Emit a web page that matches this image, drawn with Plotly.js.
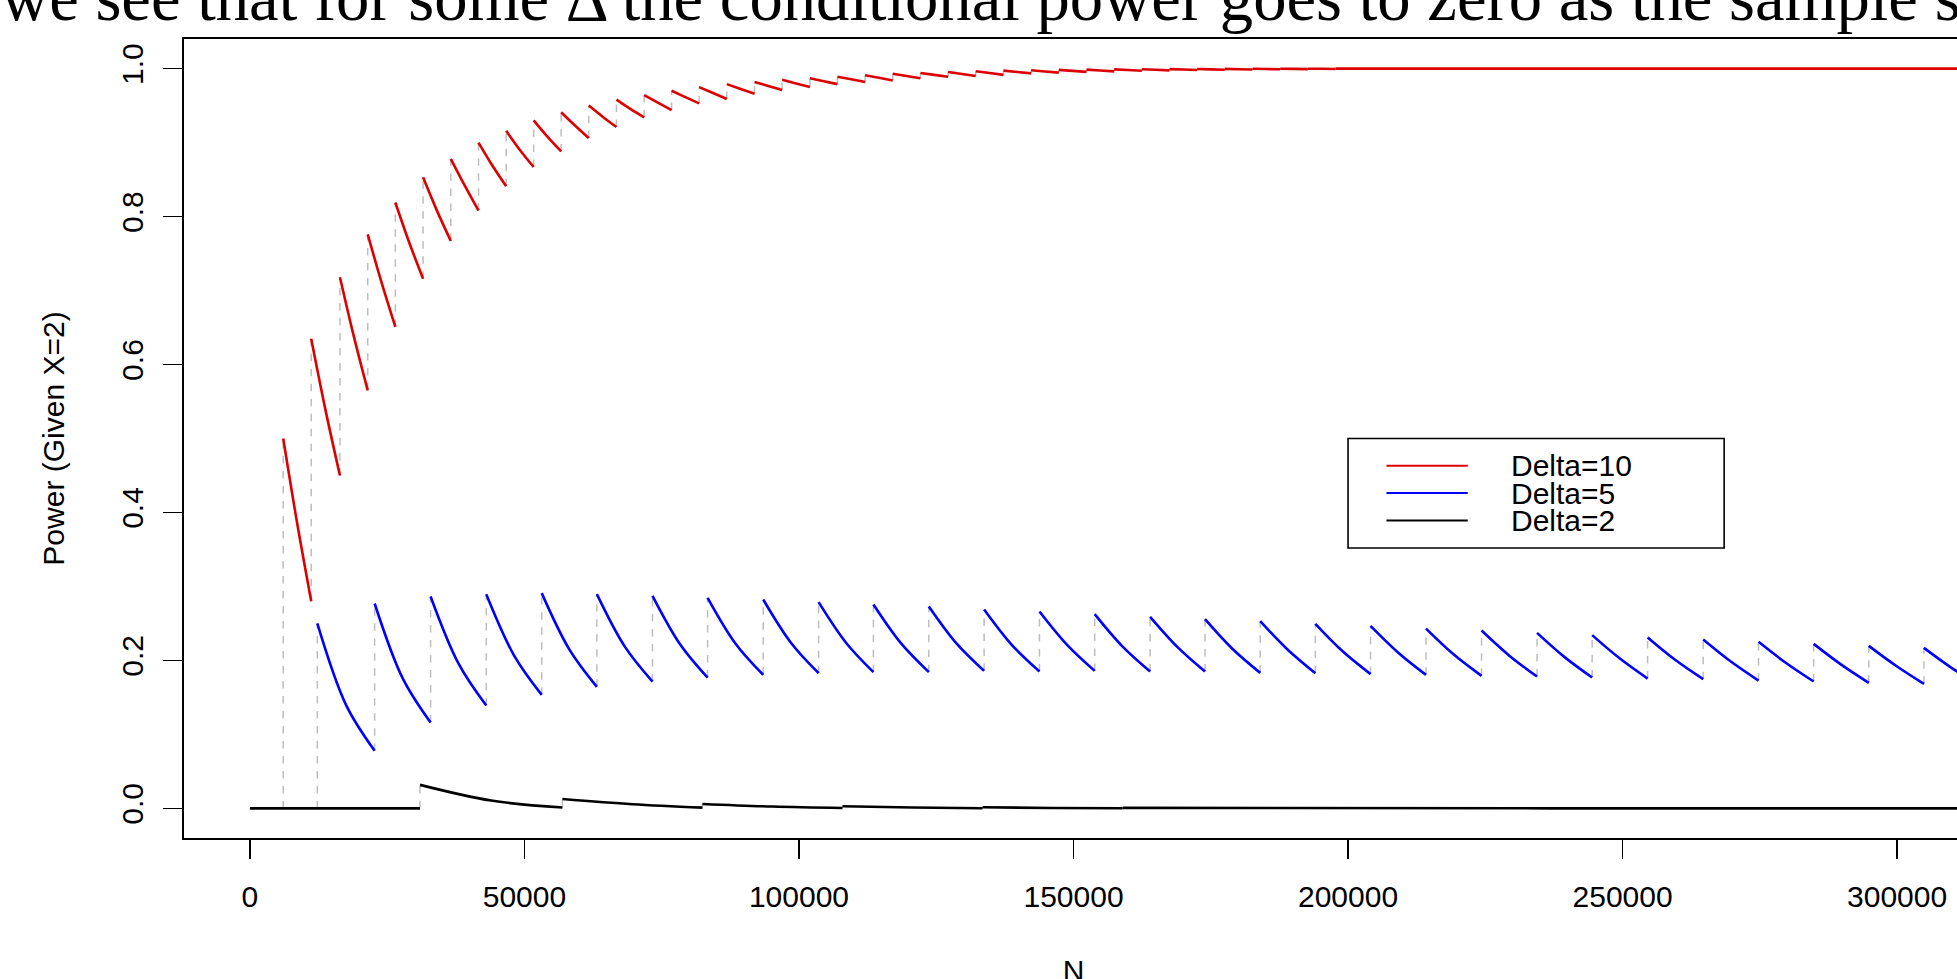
<!DOCTYPE html>
<html><head><meta charset="utf-8">
<script src="https://cdn.plot.ly/plotly-3.0.1.min.js"></script>
<style>html,body{margin:0;padding:0;overflow:hidden;background:#fff}#chart{width:1980px;height:987px}</style>
</head><body><div id="chart"></div>
<script>
// ---- data ----
const seriesNames = ['Delta=10', 'Delta=5', 'Delta=2'];
const seriesColors = ['#DD0000', '#0000FF', '#000000'];

// Delta=10 (red): segment start N, value at start, value at segment middle, value at segment end
const redBreaks = [0, 6070, 11170, 16400, 21460, 26490, 31540, 36590, 41640, 46670, 51680, 56690, 61720, 66760, 71810, 76800, 81820, 86860, 91910, 96940, 101990, 107000, 112040, 117080, 122120, 127160, 132200, 137240, 142280, 147320, 152360, 157400, 162440, 167480, 172520, 177560, 182600, 187640, 192680, 197720];
const redStart = [0, 0.500, 0.635, 0.718, 0.776, 0.819, 0.853, 0.878, 0.900, 0.916, 0.930, 0.941, 0.950, 0.958, 0.964, 0.970, 0.975, 0.979, 0.982, 0.985, 0.987, 0.989, 0.991, 0.993, 0.994, 0.9955, 0.9964, 0.9972, 0.9977, 0.9982, 0.9986, 0.9989, 0.9991, 0.9993, 0.9995, 0.9996, 0.9997, 0.9998, 0.9998, 0.9999];
const redMid = [0, 0.385, 0.538, 0.638, 0.711, 0.765, 0.808, 0.842, 0.869, 0.890, 0.908, 0.923, 0.935, 0.9455, 0.954, 0.9615, 0.967, 0.9725, 0.9765, 0.980, 0.983, 0.9855, 0.9875, 0.990, 0.9915, 0.9928, 0.9940, 0.9954, 0.9961, 0.9969, 0.9975, 0.9980, 0.9984, 0.9987, 0.9990, 0.9992, 0.9994, 0.9996, 0.9997, 0.9999];
const redEnd = [0, 0.280, 0.450, 0.565, 0.651, 0.716, 0.767, 0.808, 0.841, 0.867, 0.888, 0.906, 0.921, 0.934, 0.944, 0.953, 0.959, 0.966, 0.971, 0.975, 0.979, 0.982, 0.984, 0.987, 0.989, 0.990, 0.9915, 0.9935, 0.9945, 0.9955, 0.9963, 0.9970, 0.9976, 0.9981, 0.9985, 0.9988, 0.9991, 0.9993, 0.9995, 0.9999];
const redLastN = 315000;

// Delta=5 (blue)
const blueBreaks = [0, 12280, 22720, 32910, 43050, 53150, 63190, 73320, 83360, 93490, 103580, 113560, 123650, 133720, 143800, 153860, 163950, 173950, 184000, 194040, 204100, 214200, 224320, 234420, 244460, 254560, 264680, 274760, 284800, 294840, 304880];
const blueStart = [0, 0.250, 0.277, 0.2865, 0.2896, 0.291, 0.2896, 0.2874, 0.2847, 0.2824, 0.2788, 0.2756, 0.2729, 0.2688, 0.2661, 0.2626, 0.259, 0.2558, 0.2531, 0.2495, 0.2468, 0.2431, 0.2404, 0.2373, 0.2342, 0.231, 0.2283, 0.2252, 0.2224, 0.2197, 0.217];
const blueMid = [0, 0.140, 0.176, 0.196, 0.207, 0.215, 0.219, 0.222, 0.223, 0.224, 0.224, 0.223, 0.223, 0.221, 0.221, 0.219, 0.218, 0.2155, 0.2145, 0.212, 0.2105, 0.208, 0.2065, 0.2045, 0.2025, 0.2005, 0.1985, 0.1965, 0.1943, 0.1925, 0.190];
const blueEnd = [0, 0.078, 0.116, 0.139, 0.1535, 0.1643, 0.1715, 0.1769, 0.1805, 0.1828, 0.1842, 0.1842, 0.1859, 0.185, 0.1859, 0.185, 0.185, 0.1832, 0.1828, 0.1815, 0.1805, 0.1792, 0.1783, 0.1769, 0.1755, 0.1747, 0.1728, 0.1715, 0.1697, 0.1684, 0.167];
const blueLastN = 314950;

// Delta=2 (black)
const blackBreaks = [0, 30980, 56910, 82420, 107930, 133440, 158950];
const blackStart = [0, 0.0318, 0.0128, 0.0060, 0.0030, 0.0015, 0.0007];
const blackMid = [0, 0.0106, 0.0057, 0.0025, 0.0012, 0.0006, 0.0001];
const blackEnd = [0, 0.0012, 0.0010, 0.0005, 0.0003, 0.0002, 0.0000];
const blackLastN = 315000;

// axes
const xTickVals = [0, 50000, 100000, 150000, 200000, 250000, 300000];
const xTickText = ['0', '50000', '100000', '150000', '200000', '250000', '300000'];
const yTickVals = [0, 0.2, 0.4, 0.6, 0.8, 1.0];
const yTickText = ['0.0', '0.2', '0.4', '0.6', '0.8', '1.0'];
const titleText = 'we see that for some \u0394 the conditional power goes to zero as the sample s';
const xTitleText = 'N';
const yTitleText = 'Power (Given X=2)';

// legend placement (data coordinates, as R's legend(x, y))
const legendBox = {x0: 200000, x1: 268500, y0: 0.352, y1: 0.5};
const legendLineX = [207000, 221800];
const legendRowY = [0.4631, 0.4262, 0.3892];
const legendTextX = 229300;

// ---- build traces ----
// the first entry of each series is its zero level before the first jump;
// it is only drawn for the black series (it lies under the black line anyway)
function segs(breaks, s, m, e, lastN, from) {
  const x = [], y = [];
  for (let i = from; i < breaks.length; i++) {
    const x0 = breaks[i], x1 = (i + 1 < breaks.length) ? breaks[i + 1] : lastN;
    x.push(x0, (x0 + x1) / 2, x1, null);
    y.push(s[i], m[i], e[i], null);
  }
  return {x, y};
}
function jumps(breaks, s, e, acc) {
  for (let i = 1; i < breaks.length; i++) {
    acc.x.push(breaks[i], breaks[i], null);
    acc.y.push(e[i - 1], s[i], null);
  }
}
const jumpAcc = {x: [], y: []};
jumps(redBreaks, redStart, redEnd, jumpAcc);
jumps(blueBreaks, blueStart, blueEnd, jumpAcc);
jumps(blackBreaks, blackStart, blackEnd, jumpAcc);

const sRed = segs(redBreaks, redStart, redMid, redEnd, redLastN, 1);
const sBlue = segs(blueBreaks, blueStart, blueMid, blueEnd, blueLastN, 1);
const sBlack = segs(blackBreaks, blackStart, blackMid, blackEnd, blackLastN, 0);

const lw = 2.6;
const traces = [
  {x: jumpAcc.x, y: jumpAcc.y, mode: 'lines', line: {color: '#BEBEBE', width: 1.5, dash: '7.5px,7.5px'}, hoverinfo: 'skip', showlegend: false, connectgaps: false},
  {x: sRed.x, y: sRed.y, name: seriesNames[0], mode: 'lines', line: {color: seriesColors[0], width: lw, shape: 'spline', smoothing: 1}, showlegend: false, connectgaps: false},
  {x: sBlue.x, y: sBlue.y, name: seriesNames[1], mode: 'lines', line: {color: seriesColors[1], width: lw, shape: 'spline', smoothing: 1}, showlegend: false, connectgaps: false},
  {x: sBlack.x, y: sBlack.y, name: seriesNames[2], mode: 'lines', line: {color: seriesColors[2], width: lw, shape: 'spline', smoothing: 1}, showlegend: false, connectgaps: false}
];

const FONT = 'Liberation Sans, Arial, Helvetica, sans-serif';
const shapes = [{type: 'rect', xref: 'x', yref: 'y', x0: legendBox.x0, x1: legendBox.x1, y0: legendBox.y0, y1: legendBox.y1, line: {color: '#000', width: 1.6}, fillcolor: 'rgba(255,255,255,1)', layer: 'above'}];
const annotations = [];
for (let i = 0; i < seriesNames.length; i++) {
  shapes.push({type: 'line', xref: 'x', yref: 'y', x0: legendLineX[0], x1: legendLineX[1], y0: legendRowY[i], y1: legendRowY[i], line: {color: seriesColors[i], width: 2}, layer: 'above'});
  annotations.push({xref: 'x', yref: 'y', x: legendTextX, y: legendRowY[i], xanchor: 'left', yanchor: 'middle', text: seriesNames[i], showarrow: false, font: {family: FONT, size: 30, color: '#000'}});
}

const H = 987;
const layout = {
  width: 1980, height: H,
  margin: {l: 184.4, r: 17.4, t: 39, b: H - 838, pad: 0},
  paper_bgcolor: '#fff', plot_bgcolor: '#fff',
  showlegend: false,
  title: {text: titleText, font: {family: 'Liberation Serif, Times New Roman, serif', size: 66.7, color: '#000'},
          xref: 'container', x: 0.0005, xanchor: 'left', yref: 'container', y: 1 - 20 / H, yanchor: 'bottom', pad: {t: 0, b: 0, l: 0, r: 0}},
  xaxis: {range: [-12000, 312000], tickvals: xTickVals, ticktext: xTickText, showgrid: false, zeroline: false,
          showline: true, mirror: true, linecolor: '#000', linewidth: 1.6, ticks: 'outside', ticklen: 19, tickwidth: 1.4, tickcolor: '#000',
          tickfont: {family: FONT, size: 30, color: '#000'}, ticklabelstandoff: 12,
          title: {text: xTitleText, font: {family: FONT, size: 30, color: '#000'}, standoff: 90}},
  yaxis: {range: [-0.04, 1.04], tickvals: yTickVals, ticktext: yTickText, showgrid: false, zeroline: false,
          showline: true, mirror: true, linecolor: '#000', linewidth: 1.6, ticks: 'outside', ticklen: 19, tickwidth: 1.4, tickcolor: '#000',
          tickangle: -90, tickfont: {family: FONT, size: 30, color: '#000'}, ticklabelstandoff: 8,
          title: {text: yTitleText, font: {family: FONT, size: 30, color: '#000'}, standoff: 43}},
  shapes: shapes,
  annotations: annotations
};

Plotly.newPlot('chart', traces, layout, {displayModeBar: false, staticPlot: true});
</script>
</body></html>
